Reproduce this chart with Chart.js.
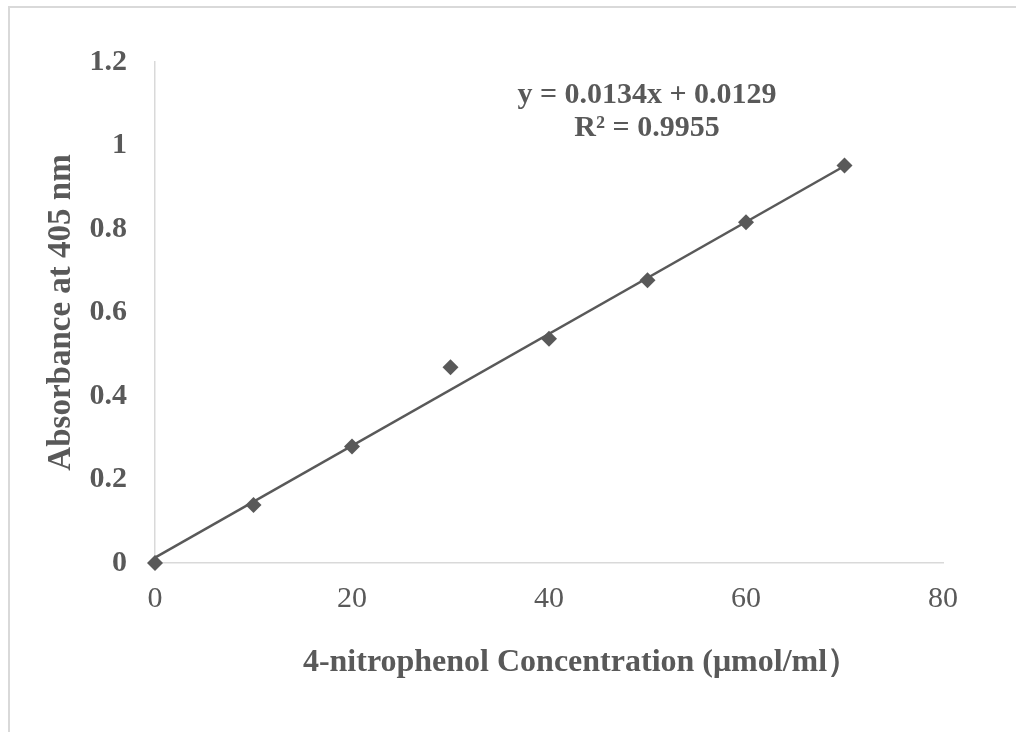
<!DOCTYPE html>
<html><head><meta charset="utf-8">
<script src="https://cdn.jsdelivr.net/npm/chart.js@4/dist/chart.umd.min.js"></script>
<style>html,body{margin:0;padding:0;background:#fff;overflow:hidden;} canvas{display:block;}</style>
</head><body>
<canvas id="c" width="1016" height="732"></canvas>
<script>
const concentrations = [0, 10, 20, 30, 40, 50, 60, 70];
const absorbance = [0, 0.139, 0.279, 0.469, 0.537, 0.677, 0.816, 0.952];
const trendX = [0, 70];
const trendY = [0.0129, 0.9509];
const xTicks = [0, 20, 40, 60, 80];
const yTicks = [0, 0.2, 0.4, 0.6, 0.8, 1, 1.2];
const equationLines = ['y = 0.0134x + 0.0129', 'R\u00b2 = 0.9955'];
const xTitle = '\u2003\u20034-nitrophenol Concentration (\u03bcmol/ml\uff09';
const yTitle = 'Absorbance at 405 nm';

const TEXT = '#595959';
const SERIF = '"Liberation Serif", "Times New Roman", serif';

const frame = {
  id: 'frame',
  beforeDraw(chart) {
    const ctx = chart.ctx;
    ctx.save();
    ctx.fillStyle = '#d9d9d9';
    ctx.fillRect(8, 6, 1008, 2);
    ctx.fillRect(8, 6, 2, 726);
    ctx.restore();
  },
  afterDraw(chart) {
    const ctx = chart.ctx;
    ctx.save();
    ctx.font = 'bold 30px ' + SERIF;
    ctx.fillStyle = TEXT;
    ctx.textAlign = 'center';
    ctx.textBaseline = 'alphabetic';
    ctx.fillText(equationLines[0], 647, 103);
    ctx.fillText(equationLines[1], 647, 136);
    ctx.restore();
  }
};

new Chart(document.getElementById('c'), {
  type: 'scatter',
  data: {
    datasets: [
      {
        label: 'Absorbance',
        data: concentrations.map((x, i) => ({x, y: absorbance[i]})),
        pointStyle: 'rectRot',
        pointRadius: 8,
        pointBackgroundColor: TEXT,
        pointBorderColor: TEXT,
        pointBorderWidth: 0,
        showLine: false,
        clip: false,
        order: 0
      },
      {
        label: 'Linear',
        data: trendX.map((x, i) => ({x, y: trendY[i]})),
        showLine: true,
        borderColor: TEXT,
        borderWidth: 2.5,
        pointRadius: 0,
        fill: false,
        clip: false,
        order: 1
      }
    ]
  },
  options: {
    responsive: false,
    animation: false,
    events: [],
    layout: {padding: {top: 62, right: 73, left: 0, bottom: 0}},
    plugins: {legend: {display: false}, tooltip: {enabled: false}},
    scales: {
      x: {
        type: 'linear',
        min: 0, max: 80,
        afterBuildTicks: s => { s.ticks = xTicks.map(v => ({value: v})); },
        afterFit: s => { s.height = 169; },
        grid: {display: false, drawTicks: false},
        border: {display: true, color: '#d9d9d9', width: 1.5},
        ticks: {
          padding: 18,
          color: TEXT,
          font: {family: SERIF, size: 30, weight: 'normal'},
          callback: v => String(v)
        },
        title: {
          display: true,
          text: xTitle,
          color: TEXT,
          font: {family: SERIF, size: 32, weight: 'bold'},
          padding: {top: 0, bottom: 50}
        }
      },
      y: {
        type: 'linear',
        min: 0, max: 1.2,
        afterBuildTicks: s => { s.ticks = yTicks.map(v => ({value: v})); },
        afterFit: s => { s.width = 155; },
        grid: {display: false, drawTicks: false},
        border: {display: true, color: '#d9d9d9', width: 1.5},
        ticks: {
          padding: 28,
          color: TEXT,
          font: {family: SERIF, size: 30, weight: 'bold'},
          callback: v => String(v)
        },
        title: {
          display: true,
          text: yTitle,
          color: TEXT,
          font: {family: SERIF, size: 33, weight: 'bold'},
          padding: {top: 42, bottom: 0}
        }
      }
    }
  },
  plugins: [frame]
});
</script>
</body></html>
